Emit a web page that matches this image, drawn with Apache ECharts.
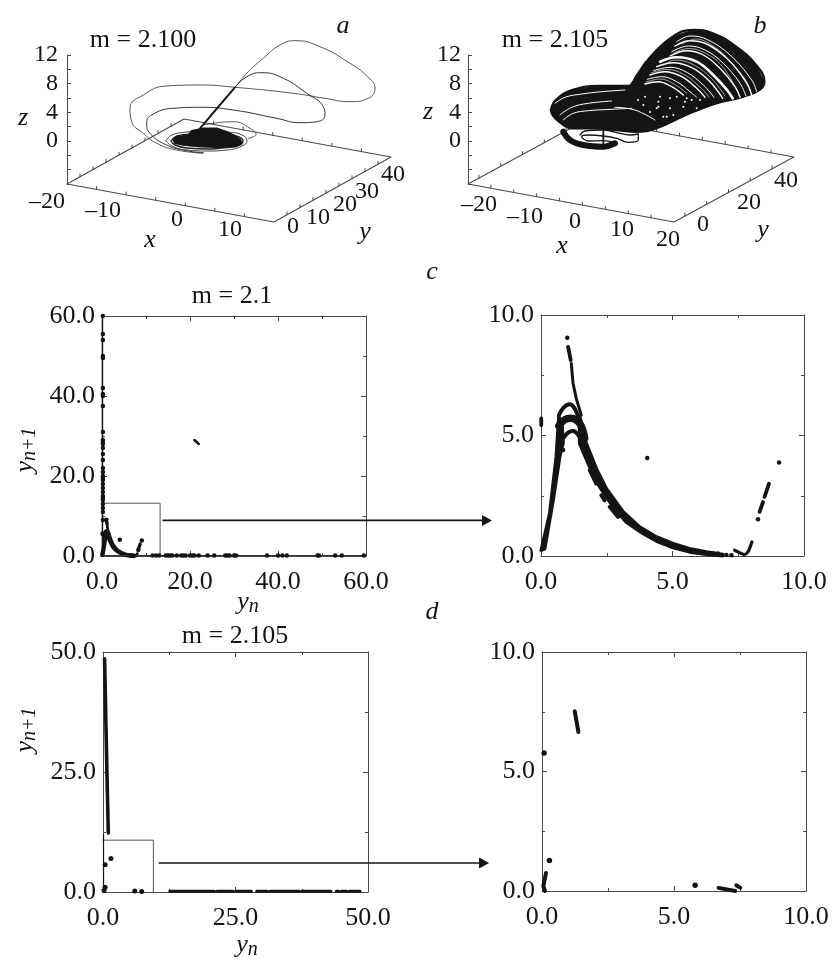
<!DOCTYPE html>
<html><head><meta charset="utf-8">
<style>html,body{margin:0;padding:0;background:#fff}#c{width:833px;height:960px}</style>
<script src="https://cdn.jsdelivr.net/npm/echarts@6/dist/echarts.min.js"></script>
</head><body><div id="c"></div>
<script>
// ---------- Panels a, b: traced curves in picture-plane units ----------
const aLoopOuter=[[133,55.7],[149.7,75.7],[168,96.7],[181.3,112.3],[196.3,125.7],[213,139],[228,143.3],[253,137.3],[283,120.7],[299.7,108],[308,95.7],[301.3,85.7],[283,82.3],[258,85.7],[226.3,90.7],[168,96.7],[133,99],[99.7,98],[76.3,89],[63,75.7],[64.7,62.3],[76.3,50.7],[89.7,40.7],[109.7,34],[136.3,30.7]];
const aLoopInner=[[133,55.7],[168,96.7],[181.3,108],[194.7,111.3],[216.3,105.7],[239.7,90.7],[256.3,77.3],[258,69],[249.7,62.3],[233,61.3],[209.7,65.7],[166.3,74],[133,76.7],[106.3,75.7],[84.7,69],[79.7,60.7],[83,50.7],[99.7,39],[119.7,33.3],[136.3,31.3]];
const aLoopSmall=[[136.3,59],[166.3,62.3],[183,55.7],[189,49.7],[181.3,45.7]];
const aRingOuter=[[99,43.3],[105,49],[120,52],[140,53.5],[160,52],[175,49],[180,43],[175,38],[160,34],[140,33],[120,34],[105,38],[99,43.3]];
const aRingInner=[[104,43],[110,48],[125,50],[140,51],[160,50],[172,47],[176,43],[170,38],[155,36],[140,35],[120,36],[108,39],[104,43]];
const aBlob=[[106.3,44],[109.7,47.3],[121.3,49],[124.7,53.3],[136.3,55.7],[149.7,55.7],[159.7,52.3],[166.3,49],[173.7,44],[174.7,40],[168,37.3],[149.7,36.7],[133,37.3],[116.3,39],[108,40.7]];
const aTrunk=[[133,55.7],[168,96.7]];

const bBody=[[83,74],[88,84],[104.7,94],[131.3,98],[161.3,98],[168,107.3],[181.3,125.7],[204.7,147.3],[224.7,154],[244.7,150.7],[268,137.3],[288,119],[296.3,102.3],[291.3,94],[274.7,87.3],[248,80.7],[221.3,70.7],[188,55.7],[168,52.3],[148,54],[128,55.7],[104.7,55.7],[91.3,62.3],[84.7,69],[83,74]];
const bCrescent=[[95.3,52.3],[102,44],[115.3,39],[135.3,37.3],[147,40.7]];
const bInnerLoop=[[112,49],[117,53],[135.3,54],[148.7,51.3],[162,49],[170.3,50],[170.3,44],[160.3,41.7],[148.7,45.7],[135.3,48],[120.3,49],[113.7,47.3],[120.3,43],[135.3,43.3],[147,41.7]];
const bStem=[[135.3,57.3],[135.3,40.7]];
const bWingStreaks=[
 [[87,80.7],[97,86.7],[113.7,90],[133.7,92.3],[157,94]],
 [[92,69],[103.7,76.7],[120.3,80.7],[143.7,83]],
 [[95.3,64],[105.3,70.7],[120.3,73.3],[143.7,74.7],[163.7,75.7]],
 [[147,76.7],[167,74],[187,64]]];
const bUpperStreaks=[
 [[208.7,142.3],[222,148],[238.7,144.7],[262,129],[283.7,104],[288.7,92.3]],
 [[207,138],[222,143.3],[238.7,140],[258.7,125.7],[277,104],[283.7,89]],
 [[203.7,132.3],[220.3,138],[237,134],[255.3,120.7],[272,100.7],[278,88]],
 [[202,128],[218.7,133.3],[235.3,129],[252,115.7],[267,97.3],[272,86.7]],
 [[192,122.3],[208.7,126.7],[228.7,122.3],[247,107.3],[260.3,92.3],[264.7,85.7]],
 [[188.7,117.3],[205.3,121.3],[225.3,115.7],[242,102.3],[254.7,85.7]],
 [[185.3,113.3],[202,116.7],[218.7,111.7],[235.3,99],[246,86.7]],
 [[182,109],[197,112.3],[213.7,107.3],[228.7,95.7],[237,86.7]],
 [[179.3,104.7],[193.7,107.3],[208.7,102.3],[222,92.3],[228.7,86.7]],
 [[177,100],[190.3,102.3],[203.7,97.3],[215.3,89]]];
const bFineStreaks=[
 [[214,140],[228,145],[245,138],[262,123],[280,98]],
 [[205,130.5],[220,135.5],[236,131.5],[254,118],[270,92]],
 [[196,119],[207,124],[226,119],[244,105],[257,88]],
 [[183,111],[199,114.5],[216,109.5],[232,97],[241,87]],
 [[178,102],[192,105],[206,100],[219,90.5]]];
const bSpecks=[[177,87.3],[190.3,82.3],[202,85.7],[208.7,87.3],[190.3,77.3],[202,75.7],[217,82.3],[198.7,67.3],[205.3,69],[223.7,84],[175.3,79],[192,87.3],[218.7,85.7],[232,84],[188.7,75.7],[215.3,77.3],[228.7,75.7],[195.3,67.3],[182,72],[170,84]];

// Floor boxes and tick values (x, y) for the oblique axes
const aXRange=[-20,15], aYRange=[0,45];
const bXRange=[-25,20], bYRange=[-10,45];
const aXTicks=[-15,-10,-5,0,5,10], aYTicks=[5,10,15,20,25,30,35,40];
const bXTicks=[-20,-15,-10,-5,0,5,10,15], bYTicks=[-5,5,15,25,35];
const zTickLabels=[0,4,8,12];

// ---------- Return maps ----------
const cBottomX=[11.5,12.3,13,14.5,15,15.5,16,17,18,18.5,19,20,20.5,21,22,24,25.5,28,28.5,29,30,30.5,37.5,40,41,42,49,49.3,53,54.5,59.5];
const cLeftY=[60,55.5,54,50,49.5,42,40.5,40,37.5,31,29,28.5,28,27,25.5,24,22,21,20,19.5,19,18,17,16,15,14.5,14,13,12,11,9];
const cCluster=[[21,29],[21.5,28.5],[22,28]];
const cRising=[[.01,.24],[.33,1.76],[.58,4.11],[.68,5.78],[.8,5.4],[.84,4.7],[.71,4.11],[.46,2.31],[.14,.3]];
const cTail=[[1.47,5.78],[1.72,4.67],[2.1,3.63],[2.48,2.8],[3.12,1.83],[3.75,1.2],[4.39,.79],[5.02,.51],[5.65,.3],[6.29,.17],[6.92,.06],[6.92,.01],[6.29,.07],[5.65,.17],[5.02,.35],[4.39,.62],[3.88,.93],[3.24,1.41],[2.74,2.04],[2.23,2.87],[1.85,3.7],[1.47,4.67]];
const cHump1=[[.68,5.84],[.86,6.16],[1.09,6.3],[1.28,6.12],[1.47,5.57]];
const cHump2=[[.68,5.4],[.9,5.66],[1.15,5.72],[1.47,5.5],[1.66,4.9]];
const cHump3=[[.84,4.88],[1.03,5.12],[1.22,5.19],[1.47,4.94],[1.72,4.46]];
const cSpike=[[1.15,7.99],[1.22,7.16],[1.34,6.54],[1.53,5.84]];
const cDashes=[[1.03,8.68],[1.13,8.13],['-','-'],[1.85,3.56],[2.1,3.0],['-','-'],[2.29,2.52],[2.42,2.31],['-','-'],[2.61,2.04],[2.93,1.62],['-','-'],[.01,5.71],[.01,5.43],['-','-'],[8.31,1.83],[8.44,2.24],['-','-'],[8.5,2.45],[8.67,3.0]];
const cDip=[[7.36,.24],[7.55,.14],[7.74,.06],[7.87,.17],[7.96,.4],[8.02,.58]];
const cDots=[[1.0,9.06],[4.04,4.07],[9.05,3.88],[8.25,1.52],[.84,4.4],[6.54,.1],[6.73,.1],[7.05,.04],[7.24,.03]];

const dLeftBar=[[.3,48.6],[.55,35],[.8,22],[1.0,12.3]];
const dLeftDots=[[1.5,7],[.4,5.7],[.4,1],[.2,.3],[6,.2],[7.3,.1]];
const dBottom=[[12.6,.15],[21,.15],['-','-'],[21.5,.15],[24.5,.15],['-','-'],[25,.15],[28,.15],['-','-'],[29,.15],[31,.15],['-','-'],[31.5,.15],[37,.15],['-','-'],[37.5,.15],[43,.15],['-','-'],[44,.15],[44.5,.15],['-','-'],[45,.15],[46,.15],['-','-'],[46.5,.15],[48.5,.15]];
const dZoomSegs=[[1.24,7.52],[1.38,6.65],['-','-'],[.15,.75],[.05,.2],[.11,0],['-','-'],[6.69,.13],[7.32,0],['-','-'],[7.36,.24],[7.51,.14]];
const dZoomDots=[[.08,5.77],[.28,1.28],[5.8,.24]];
const cInset=[[0,13.2],[13.2,13.2],[13.2,0]], dInset=[[0,10.8],[9.5,10.8],[9.5,0]];
const cArrow=[[13.9,8.9],[87.5,8.9]], dArrow=[[10.6,6.04],[71.9,6.04]];

// ---------- Labels ----------
const aXLabels=['–20','–10','0','10'], aYLabels=['0','10','20','30','40'];
const bXLabels=['–20','–10','0','10','20'], bYLabels=['0','20','40'];

// ---------- Layout ----------
const INK='#141414', BOX='#4a4a4a', SERIF='"Liberation Serif","Times New Roman",serif';
const FS=26, FS3=24;
const panels=[
 {l:102,t:316,w:264,h:240,max:60,iv:20},
 {l:541,t:315,w:263,h:241,max:10,iv:5},
 {l:103,t:652,w:265,h:240,max:50,iv:25},
 {l:542,t:652,w:264,h:239,max:10,iv:5}];
const plots3d=[{l:67,t:55,w:330,h:129,mr:9},{l:468,t:55,w:330,h:129,mr:7}];

const grids=[],xAxes=[],yAxes=[],series=[];
const ax={};
function addMapPanel(p,i){
  grids.push({left:p.l,top:p.t,width:p.w,height:p.h});
  const g=grids.length-1;
  const common={type:'value',gridIndex:g,min:0,max:p.max,interval:p.iv,splitLine:{show:false},
    axisLine:{onZero:false,lineStyle:{color:BOX,width:1}},
    axisTick:{inside:true,length:5,lineStyle:{color:BOX}},
    minorTick:{show:true,splitNumber:2,length:3,lineStyle:{color:BOX}}};
  const lab={color:INK,fontFamily:SERIF,fontSize:FS,formatter:v=>v.toFixed(1)};
  xAxes.push({...common,position:'bottom',axisLabel:{...lab,margin:13}});
  xAxes.push({...common,position:'top',axisLabel:{show:false}});
  yAxes.push({...common,position:'left',axisLabel:{...lab,margin:7}});
  yAxes.push({...common,position:'right',axisLabel:{show:false}});
  ax[i]={x:xAxes.length-2,y:yAxes.length-2};
  // hidden overlay in the same units, wide enough for the arrow that leaves the panel
  grids.push({left:p.l,top:p.t,width:p.w*1.5,height:p.h});
  xAxes.push({type:'value',gridIndex:g+1,min:0,max:p.max*1.5,show:false});
  yAxes.push({type:'value',gridIndex:g+1,min:0,max:p.max,show:false});
  ax['over'+i]={x:xAxes.length-1,y:yAxes.length-1};
}
panels.forEach(addMapPanel);
function add3dPanel(p,i){
  grids.push({left:p.l,top:p.t,width:p.w,height:p.h});
  const g=grids.length-1;
  xAxes.push({type:'value',gridIndex:g,min:0,max:p.w,show:false});
  yAxes.push({type:'value',gridIndex:g,position:'left',min:-6,max:12,interval:2,splitLine:{show:false},
    axisLine:{onZero:false,lineStyle:{color:BOX}},axisTick:{inside:true,length:4,lineStyle:{color:BOX}},
    axisLabel:{color:INK,fontFamily:SERIF,fontSize:FS3,margin:p.mr,formatter:v=>zTickLabels.includes(v)?String(v):''}});
  yAxes.push({type:'value',gridIndex:g,min:0,max:p.h,show:false});
  ax['p'+i]={x:xAxes.length-1,y:yAxes.length-1};
}
plots3d.forEach(add3dPanel);

function line(a,data,o={}){series.push({type:'line',xAxisIndex:ax[a].x,yAxisIndex:ax[a].y,data,symbol:'none',showSymbol:false,clip:false,silent:true,animation:false,connectNulls:false,smooth:o.smooth||0,z:o.z||2,lineStyle:{color:o.color||INK,width:o.width||1,cap:o.cap||'round',join:'round'}});}
function dots(a,data,size,o={}){series.push({type:'scatter',xAxisIndex:ax[a].x,yAxisIndex:ax[a].y,data,symbol:o.symbol||'circle',symbolSize:size,symbolRotate:o.rotate||0,clip:false,silent:true,animation:false,z:o.z||3,itemStyle:{color:o.color||INK,opacity:1}});}
function poly(a,pts,o={}){series.push({type:'custom',xAxisIndex:ax[a].x,yAxisIndex:ax[a].y,data:pts,clip:false,silent:true,animation:false,z:o.z||2,encode:{x:0,y:1},
  renderItem(params,api){ if(params.dataIndex!==0) return; return {type:'polygon',shape:{points:pts.map(q=>api.coord(q))},style:{fill:o.color||INK,stroke:o.color||INK,lineWidth:o.stroke||.5,lineJoin:'round'}}; }});}

// ---------- Oblique floor through the plane axes ----------
function projector(xr,yr,sx,kx,sy,ky){return (x,y,z)=>[(x-xr[0])*sx+(y-yr[0])*sy,-(x-xr[0])*kx+(y-yr[0])*ky+(z+6)*7.17];}
const projA=projector(aXRange,aYRange,5.914,1.086,2.6,1.444);
const projB=projector(bXRange,bYRange,4.578,.844,2.18,1.182);
function floor(a,P,xr,yr,xt,yt){
  const Z=-6;
  line(a,[P(xr[0],yr[0],Z),P(xr[1],yr[0],Z),P(xr[1],yr[1],Z),P(xr[0],yr[1],Z),P(xr[0],yr[0],Z)],{color:BOX,width:1.1,z:1});
  const t=[];
  const seg=(x,y)=>{t.push(P(x,y,Z),P(x,y,Z+.4),['-','-']);};
  xt.forEach(x=>{seg(x,yr[0]);seg(x,yr[1]);});
  yt.forEach(y=>{seg(xr[0],y);seg(xr[1],y);});
  line(a,t,{color:BOX,width:1,z:1});
}
floor('p0',projA,aXRange,aYRange,aXTicks,aYTicks);
floor('p1',projB,bXRange,bYRange,bXTicks,bYTicks);

// Panel a
line('p0',aLoopOuter,{smooth:.5,color:'#444',width:.9});
line('p0',aLoopInner,{smooth:.5,color:'#333',width:1});
line('p0',aLoopSmall,{smooth:.5,color:'#444',width:.9});
line('p0',aTrunk,{width:1.8});
line('p0',aRingOuter,{smooth:.5,color:'#444',width:1});
line('p0',aRingInner,{smooth:.5,color:'#222',width:1.4});
poly('p0',aBlob,{z:3,stroke:1.5});

// Panel b
poly('p1',bBody,{stroke:1});
line('p1',bBody,{smooth:.45,width:2.5});
line('p1',bCrescent,{smooth:.4,width:6,z:3});
line('p1',bInnerLoop,{smooth:.4,width:1.3,z:3});
line('p1',bStem,{width:1.8,z:3});
bWingStreaks.forEach(s=>line('p1',s,{smooth:.4,color:'#fff',width:1,z:4}));
bUpperStreaks.forEach((s,i)=>line('p1',s,{smooth:.4,color:'#fff',width:i===4?2.6:(i%2?1.4:1),z:4}));
bFineStreaks.forEach(s=>line('p1',s,{smooth:.4,color:'#ddd',width:.7,z:4}));
dots('p1',bSpecks,2,{color:'#fff',z:5});

// Panel c, shared curve
function cCurve(a,k,st){
  poly(a,cRising,{stroke:st}); poly(a,cTail,{stroke:st});
  line(a,cHump1,{smooth:.4,width:4*k});
  line(a,cHump2,{smooth:.4,width:(a===0?4:7.5)*k});
  line(a,cHump3,{smooth:.4,width:4*k});
  line(a,cSpike,{width:3*k});
  line(a,cDashes,{width:3.8*k});
  line(a,cDip,{smooth:.3,width:3.2*k});
  dots(a,cDots,4.5);
}
cCurve(0,.9,4); cCurve(1,1,3.5);
dots(0,cBottomX.map(x=>[x,.1]),4.5);
dots(0,cLeftY.map(y=>[.2,y]),4.5);
line(0,[[.1,60],[.1,0]],{width:1.5});
line(0,cCluster,{width:2.5});
line(0,[[.3,.1],[60,.1]],{width:1.2,color:'#333'});

// Insets and arrows
line(0,cInset,{color:'#555',width:1});
line('over0',cArrow,{width:1.6});
dots('over0',[cArrow[1]],[11,10],{symbol:'triangle',rotate:-90});
line(2,dInset,{color:'#555',width:1});
line('over2',dArrow,{width:1.6});
dots('over2',[dArrow[1]],[11,10],{symbol:'triangle',rotate:-90});

// Panel d
line(2,dLeftBar,{width:3.6});
line(2,[[.1,12],[.1,0]],{width:1.2});
dots(2,dLeftDots,5);
line(2,dBottom,{width:3});
line(3,dZoomSegs,{width:4});
dots(3,dZoomDots,5.5);

// ---------- Text ----------
const txt=(text,x,y,o={})=>({type:'text',x,y,rotation:o.rot||0,silent:true,style:{text,textAlign:'center',textVerticalAlign:'middle',fill:INK,font:(o.it?'italic ':'')+(o.fs||FS)+'px '+SERIF,rich:o.rich}});
const subRich={i:{fontFamily:SERIF,fontStyle:'italic',fontSize:26,color:INK},s:{fontFamily:SERIF,fontStyle:'italic',fontSize:20,color:INK,padding:[10,0,0,0]}};
const graphics=[
 txt('m = 2.100',143,40), txt('m = 2.105',555,40),
 txt('a',343,26,{it:1}), txt('b',760,26,{it:1}),
 txt('c',432,272,{it:1}), txt('d',432,612,{it:1}),
 txt('m = 2.1',232,296), txt('m = 2.105',235,636),
 txt('z',23,118,{it:1}), txt('z',428,112,{it:1}),
 txt('x',150,240,{it:1}), txt('y',365,232,{it:1}),
 txt('x',562,246,{it:1}), txt('y',763,230,{it:1}),
 txt('{i|y}{s|n}',248,602,{rich:subRich}), txt('{i|y}{s|n}',247,945,{rich:subRich}),
 txt('{i|y}{s|n+1}',25,450,{rot:Math.PI/2,rich:subRich}), txt('{i|y}{s|n+1}',25,730,{rot:Math.PI/2,rich:subRich})
];
[[47,202],[103,211],[177,220],[230,230]].forEach((q,i)=>graphics.push(txt(aXLabels[i],q[0],q[1],{fs:FS3})));
[[293,227],[318,218],[345,205],[367,192],[393,175]].forEach((q,i)=>graphics.push(txt(aYLabels[i],q[0],q[1],{fs:FS3})));
[[479,205],[525,217],[575,222],[622,230],[668,240]].forEach((q,i)=>graphics.push(txt(bXLabels[i],q[0],q[1],{fs:FS3})));
[[703,225],[749,203],[786,181]].forEach((q,i)=>graphics.push(txt(bYLabels[i],q[0],q[1],{fs:FS3})));

const chart=echarts.init(document.getElementById('c'),null,{renderer:'canvas'});
chart.setOption({backgroundColor:'#fff',animation:false,grid:grids,xAxis:xAxes,yAxis:yAxes,series,graphic:{elements:graphics}});
</script></body></html>
